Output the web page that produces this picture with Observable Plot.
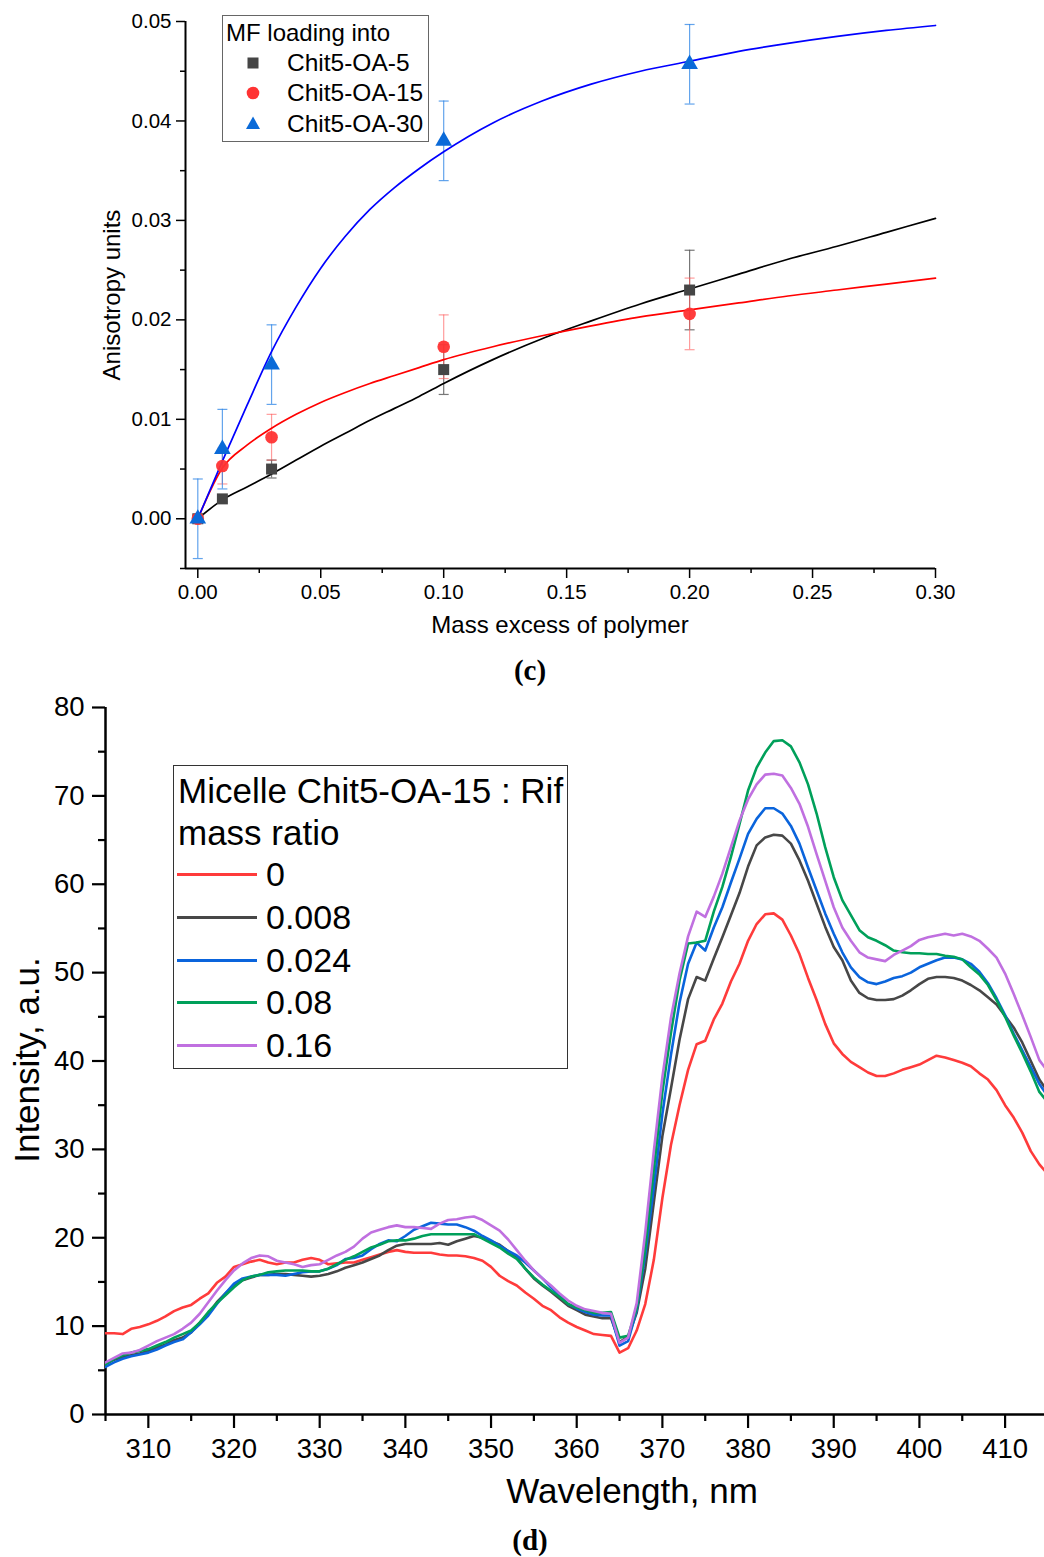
<!DOCTYPE html>
<html><head><meta charset="utf-8">
<script src="https://cdn.jsdelivr.net/npm/d3@7"></script>
<script src="https://cdn.jsdelivr.net/npm/@observablehq/plot@0.6"></script>
<style>
body{margin:0;background:#fff;font-family:"Liberation Sans",Arial,sans-serif;color:#000;}
#page{position:relative;width:1044px;height:1557px;overflow:hidden;background:#fff;}
.pl{position:absolute;left:0;}
.t{position:absolute;white-space:nowrap;line-height:1;}
.c{transform:translate(-50%,-50%);}
.r{transform:translate(-50%,-50%) rotate(-90deg);}
.cap{font-family:"Liberation Serif","Times New Roman",serif;font-weight:bold;}
.box{position:absolute;background:#fff;}
</style></head><body><div id="page"></div>
<script>
// ---------- Panel (c): anisotropy ----------
const cX = [0, 0.01, 0.03, 0.10, 0.20];
const oa5Y   = [0, 0.0020, 0.0050, 0.0150, 0.0230];
const oa5Err = [0.0003, 0.0003, 0.0009, 0.0025, 0.0040];
const oa15Y   = [0, 0.0053, 0.0082, 0.0173, 0.0206];
const oa15Err = [0.0003, 0.0018, 0.0023, 0.0032, 0.0036];
const oa30Y   = [0, 0.0070, 0.0155, 0.0380, 0.0457];
const oa30Err = [0.0040, 0.0040, 0.0040, 0.0040, 0.0040];
// fitted curves
const fitX    = [0, 0.01, 0.02, 0.03, 0.04, 0.05, 0.06, 0.07, 0.08, 0.09, 0.10, 0.12, 0.14, 0.16, 0.18, 0.20, 0.22, 0.24, 0.26, 0.28, 0.30];
const fit5Y   = [0, 0.0019, 0.0032, 0.0045, 0.0059, 0.0073, 0.0086, 0.0099, 0.0111, 0.0123, 0.0136, 0.0160, 0.0181, 0.0199, 0.0216, 0.0231, 0.0246, 0.0261, 0.0274, 0.0288, 0.0302];
const fit15Y  = [0, 0.0051, 0.0074, 0.0091, 0.0105, 0.0117, 0.0127, 0.0136, 0.0144, 0.0152, 0.0160, 0.0173, 0.0184, 0.0194, 0.0203, 0.0210, 0.0217, 0.0224, 0.0230, 0.0236, 0.0242];
const fit30Y  = [0, 0.0058, 0.0114, 0.0168, 0.0213, 0.0252, 0.0284, 0.0311, 0.0333, 0.0352, 0.0369, 0.0398, 0.0420, 0.0437, 0.0450, 0.0460, 0.0470, 0.0478, 0.0485, 0.0491, 0.0496];
const cXDomain = [-0.005, 0.30];
const cYDomain = [-0.005, 0.05];
const cXTicks = [0, 0.05, 0.10, 0.15, 0.20, 0.25, 0.30];
const cXMinor = [0.025, 0.075, 0.125, 0.175, 0.225, 0.275];
const cYTicks = [0, 0.01, 0.02, 0.03, 0.04, 0.05];
const cYMinor = [-0.005, 0.005, 0.015, 0.025, 0.035, 0.045];
const cSeries = ["Chit5-OA-5", "Chit5-OA-15", "Chit5-OA-30"];

// ---------- Panel (d): fluorescence spectra ----------
const wavelengths = [305,306,307,308,309,310,311,312,313,314,315,316,317,318,319,320,321,322,323,324,325,326,327,328,329,330,331,332,333,334,335,336,337,338,339,340,341,342,343,344,345,346,347,348,349,350,351,352,353,354,355,356,357,358,359,360,361,362,363,364,365,366,367,368,369,370,371,372,373,374,375,376,377,378,379,380,381,382,383,384,385,386,387,388,389,390,391,392,393,394,395,396,397,398,399,400,401,402,403,404,405,406,407,408,409,410,411,412,413,414,415];
const ratio0 = [9.2,9.2,9.1,9.7,9.9,10.2,10.6,11.1,11.7,12.1,12.4,13.1,13.7,14.9,15.6,16.7,17.0,17.3,17.5,17.2,17.0,17.2,17.2,17.5,17.7,17.5,17.0,17.1,17.2,17.2,17.5,17.8,18.1,18.4,18.6,18.4,18.3,18.3,18.3,18.1,18.0,18.0,17.9,17.7,17.4,16.7,15.7,15.1,14.6,13.8,13.1,12.3,11.8,11.0,10.4,9.9,9.5,9.1,9.0,8.9,7.0,7.5,9.5,12.5,17.5,24.5,30.5,35.0,39.0,41.9,42.3,44.7,46.5,49.0,51.0,53.6,55.5,56.6,56.7,56.0,54.2,52.1,49.4,46.9,44.2,42.0,40.8,39.9,39.3,38.7,38.3,38.3,38.6,39.0,39.3,39.6,40.1,40.6,40.4,40.1,39.8,39.4,38.6,37.9,36.7,35.0,33.6,31.9,29.8,28.3,27.2];
const ratio008 = [5.7,6.2,6.5,6.7,6.9,7.2,7.6,7.9,8.4,8.7,9.3,10.4,11.4,12.7,13.7,14.6,15.2,15.5,15.8,15.8,15.9,15.9,15.8,15.7,15.6,15.7,15.9,16.2,16.6,16.9,17.2,17.6,18.0,18.6,19.1,19.3,19.3,19.3,19.3,19.4,19.2,19.6,19.9,20.2,20.0,19.6,19.2,18.5,17.8,16.5,15.4,14.6,13.9,13.1,12.3,11.8,11.3,11.1,10.9,10.9,8.2,8.8,11.5,16.5,24.0,31.5,36.9,42.4,47.0,49.5,49.1,51.6,54.0,56.5,59.0,62.0,64.4,65.3,65.6,65.5,64.6,62.7,60.4,57.8,55.2,52.9,51.4,49.1,47.7,47.1,46.9,46.9,47.0,47.4,48.0,48.7,49.3,49.5,49.5,49.4,49.1,48.6,48.0,47.2,46.4,45.1,43.8,42.1,40.0,37.9,36.5];
const ratio024 = [5.4,5.9,6.3,6.6,6.8,7.0,7.35,7.8,8.2,8.5,9.3,10.2,11.2,12.5,13.7,14.8,15.4,15.6,15.8,15.8,15.8,15.7,15.9,16.1,16.2,16.2,16.5,16.9,17.6,17.7,18.0,18.7,19.3,19.7,19.6,20.2,20.9,21.3,21.7,21.6,21.5,21.5,21.2,20.8,20.2,19.7,19.1,18.5,18.0,17.2,16.3,15.4,14.4,13.5,12.5,12.0,11.6,11.3,11.2,11.2,7.8,8.3,11.8,18.1,25.7,34.0,40.7,46.6,51.0,53.4,52.5,55.1,57.4,60.2,62.9,65.7,67.4,68.6,68.6,68.0,66.6,64.6,61.9,59.3,56.7,54.4,52.3,50.6,49.5,48.9,48.7,49.0,49.4,49.6,50.0,50.6,51.0,51.4,51.7,51.7,51.5,51.0,50.1,48.8,47.1,45.2,43.1,41.2,39.3,37.4,36.0];
const ratio08 = [5.7,6.3,6.7,7.0,7.2,7.4,7.8,8.2,8.7,9.1,9.5,10.4,11.6,12.6,13.5,14.4,15.2,15.6,15.8,16.1,16.2,16.3,16.3,16.3,16.2,16.2,16.5,17.0,17.5,17.9,18.4,18.9,19.2,19.6,19.7,19.7,19.9,20.2,20.4,20.4,20.4,20.4,20.4,20.4,19.9,19.4,18.9,18.2,17.6,16.5,15.5,14.7,14.0,13.3,12.5,12.1,11.8,11.5,11.5,11.6,8.7,8.9,12.0,18.8,27.7,36.5,43.2,49.1,53.3,53.4,53.6,56.9,59.7,63.1,66.8,70.6,73.2,74.9,76.2,76.3,75.6,73.8,71.3,68.0,64.2,60.8,58.2,56.5,54.8,54.0,53.6,53.1,52.5,52.3,52.2,52.2,52.1,52.1,51.9,51.8,51.5,50.6,49.8,48.6,46.9,45.0,42.9,40.9,38.8,36.5,35.3];
const ratio16 = [5.9,6.4,6.9,7.0,7.3,7.8,8.3,8.7,9.1,9.7,10.4,11.4,12.7,14.0,15.2,16.3,17.1,17.7,18.0,17.9,17.4,17.2,17.0,16.7,16.9,17.0,17.5,18.0,18.4,19.0,19.9,20.6,20.9,21.2,21.4,21.2,21.2,21.1,21.0,21.6,22.0,22.1,22.3,22.4,22.0,21.4,20.8,19.8,18.6,17.4,16.3,15.4,14.6,13.7,12.9,12.3,11.9,11.7,11.5,11.4,8.1,8.7,12.6,20.6,29.8,38.2,44.9,49.9,54.1,56.9,56.3,58.6,61.2,64.2,67.2,69.6,71.3,72.4,72.5,72.3,70.9,69.1,66.5,63.4,60.4,57.4,55.1,53.6,52.3,51.7,51.5,51.3,52.0,52.5,53.0,53.7,54.0,54.2,54.4,54.2,54.4,54.1,53.6,52.7,51.7,49.9,47.6,45.2,42.7,40.1,38.8];
const dLabels = ["0", "0.008", "0.024", "0.08", "0.16"];
const dColors = ["#ff3b3b", "#474747", "#0a64dc", "#00a05a", "#c070e0"];
const dXDomain = [305, 414.6];
const dYDomain = [0, 80];
const dXTicks = [310, 320, 330, 340, 350, 360, 370, 380, 390, 400, 410];
const dXMinor = [305, 315, 325, 335, 345, 355, 365, 375, 385, 395, 405];
const dYTicks = [0, 10, 20, 30, 40, 50, 60, 70, 80];
const dYMinor = [5, 15, 25, 35, 45, 55, 65, 75];

// ---------- build ----------
const page = document.getElementById("page");
const FONT = "Liberation Sans, Arial, sans-serif";
const cap = {draw(ctx) { ctx.moveTo(-5, 0); ctx.lineTo(5, 0); }};

function pts(xs, ys, es) { return xs.map((x, i) => ({x, y: ys[i], e: es ? es[i] : 0})); }
const blackPts = pts(cX, oa5Y, oa5Err), redPts = pts(cX, oa15Y, oa15Err), bluePts = pts(cX, oa30Y, oa30Err);

function errMarks(data, color, op) {
  return [
    Plot.ruleX(data, {x: "x", y1: d => d.y - d.e, y2: d => d.y + d.e, stroke: color, strokeOpacity: op, strokeWidth: 1.2}),
    Plot.dot(data, {x: "x", y: d => d.y + d.e, symbol: cap, r: 5, stroke: color, strokeOpacity: op, fill: "none", strokeWidth: 1.2}),
    Plot.dot(data, {x: "x", y: d => d.y - d.e, symbol: cap, r: 5, stroke: color, strokeOpacity: op, fill: "none", strokeWidth: 1.2})
  ];
}

const plotC = Plot.plot({
  width: 1044, height: 650,
  marginLeft: 185, marginRight: 109, marginTop: 21, marginBottom: 82,
  x: {domain: cXDomain},
  y: {domain: cYDomain},
  style: {fontFamily: FONT, fontSize: "20px", color: "#000", background: "transparent", overflow: "visible"},
  marks: [
    Plot.axisX(cXTicks, {tickSize: 10, tickPadding: 6, tickFormat: d3.format(".2f"), label: null, fontSize: 20.5, strokeWidth: 1.5}),
    Plot.axisX(cXMinor, {tickSize: 5, tickFormat: () => "", label: null, strokeWidth: 1.5}),
    Plot.axisY(cYTicks, {tickSize: 9, tickPadding: 5, tickFormat: d3.format(".2f"), label: null, fontSize: 20.5, strokeWidth: 1.5}),
    Plot.axisY(cYMinor, {tickSize: 5, tickFormat: () => "", label: null, strokeWidth: 1.5}),
    Plot.ruleY([cYDomain[0]], {strokeWidth: 2}),
    Plot.ruleX([cXDomain[0]], {strokeWidth: 2}),
    ...errMarks(blackPts, "#555", 0.8),
    ...errMarks(redPts, "#ff5a5a", 0.6),
    ...errMarks(bluePts, "#2f86e6", 0.75),
    Plot.line(pts(fitX, fit5Y), {x: "x", y: "y", stroke: "#000", strokeWidth: 1.7, curve: "monotone-x"}),
    Plot.line(pts(fitX, fit15Y), {x: "x", y: "y", stroke: "#ff0000", strokeWidth: 1.7, curve: "monotone-x"}),
    Plot.line(pts(fitX, fit30Y), {x: "x", y: "y", stroke: "#0000ff", strokeWidth: 1.7, curve: "monotone-x"}),
    Plot.dot(blackPts, {x: "x", y: "y", symbol: "square", r: 6.2, fill: "#454545", stroke: "none"}),
    Plot.dot(redPts, {x: "x", y: "y", symbol: "circle", r: 6.3, fill: "#ff3333", fillOpacity: 0.95, stroke: "none"}),
    Plot.dot(bluePts, {x: "x", y: "y", symbol: "triangle", r: 6.2, fill: "#0a6ad8", stroke: "none"})
  ]
});
plotC.classList.add("pl"); plotC.style.top = "0px";
page.appendChild(plotC);

const plotD = Plot.plot({
  width: 1044, height: 877,
  marginLeft: 105, marginRight: 0, marginTop: 27, marginBottom: 143,
  x: {domain: dXDomain},
  y: {domain: dYDomain},
  style: {fontFamily: FONT, fontSize: "27px", color: "#000", background: "transparent"},
  marks: [
    Plot.axisX(dXTicks, {tickSize: 14, tickPadding: 10, label: null, fontSize: 27.5, strokeWidth: 2.2}),
    Plot.axisX(dXMinor, {tickSize: 7, tickFormat: () => "", label: null, strokeWidth: 2.2}),
    Plot.axisY(dYTicks, {tickSize: 13, tickPadding: 8, label: null, fontSize: 27.5, strokeWidth: 2.2}),
    Plot.axisY(dYMinor, {tickSize: 7, tickFormat: () => "", label: null, strokeWidth: 2.2}),
    Plot.ruleY([dYDomain[0]], {strokeWidth: 2.5}),
    Plot.ruleX([dXDomain[0]], {strokeWidth: 2.5}),
    ...[ratio0, ratio008, ratio024, ratio08, ratio16].map((s, i) =>
      Plot.line(wavelengths.map((w, j) => ({w, v: s[j]})), {x: "w", y: "v", stroke: dColors[i], strokeWidth: 2.6, clip: true}))
  ]
});
plotD.classList.add("pl"); plotD.style.top = "680px";
page.appendChild(plotD);

// ---------- text ----------
function txt(s, x, y, size, cls, extra) {
  const d = document.createElement("div");
  d.className = "t " + (cls || "c");
  d.style.left = x + "px"; d.style.top = y + "px"; d.style.fontSize = size + "px";
  if (extra) Object.assign(d.style, extra);
  d.textContent = s; page.appendChild(d); return d;
}
txt("Anisotropy units", 112, 295, 24, "r");
txt("Mass excess of polymer", 560, 625, 24, "c");
txt("(c)", 530, 670, 29, "c cap");
txt("Intensity, a.u.", 26, 1060, 35, "r");
txt("Wavelength, nm", 632, 1490, 35, "c");
txt("(d)", 530, 1540, 29, "c cap");

// legend (c)
(function(){
  const b = document.createElement("div"); b.className = "box";
  Object.assign(b.style, {left: "222px", top: "15px", width: "205px", height: "125px", border: "1px solid #666"});
  page.appendChild(b);
  txt("MF loading into", 226, 33, 24, "", {transform: "translate(0,-50%)"});
  const rows = [63, 93, 124];
  const syms = [
    '<rect x="-5.5" y="-5.5" width="11" height="11" fill="#454545"/>',
    '<circle r="6.3" fill="#ff3333"/>',
    '<path d="M0,-7.5L7,5L-7,5Z" fill="#0a6ad8"/>'
  ];
  rows.forEach((y, i) => {
    const s = document.createElementNS("http://www.w3.org/2000/svg", "svg");
    s.setAttribute("width", 20); s.setAttribute("height", 20); s.setAttribute("viewBox", "-10 -10 20 20");
    Object.assign(s.style, {position: "absolute", left: (253 - 10) + "px", top: (y - 10) + "px"});
    s.innerHTML = syms[i]; page.appendChild(s);
    txt(cSeries[i], 287, y, 24.5, "", {transform: "translate(0,-50%)"});
  });
})();

// legend (d)
(function(){
  const b = document.createElement("div"); b.className = "box";
  Object.assign(b.style, {left: "173px", top: "765px", width: "393px", height: "302px", border: "1.5px solid #333"});
  page.appendChild(b);
  txt("Micelle Chit5-OA-15 : Rif", 178, 790, 35, "", {transform: "translate(0,-50%)"});
  txt("mass ratio", 178, 832, 35, "", {transform: "translate(0,-50%)"});
  const rows = [874, 917, 960, 1002, 1045];
  rows.forEach((y, i) => {
    const l = document.createElement("div");
    Object.assign(l.style, {position: "absolute", left: "177px", top: (y - 1.5) + "px", width: "80px", height: "3px", background: dColors[i]});
    page.appendChild(l);
    txt(dLabels[i], 266, y, 34, "", {transform: "translate(0,-50%)"});
  });
})();
</script>
</body></html>
